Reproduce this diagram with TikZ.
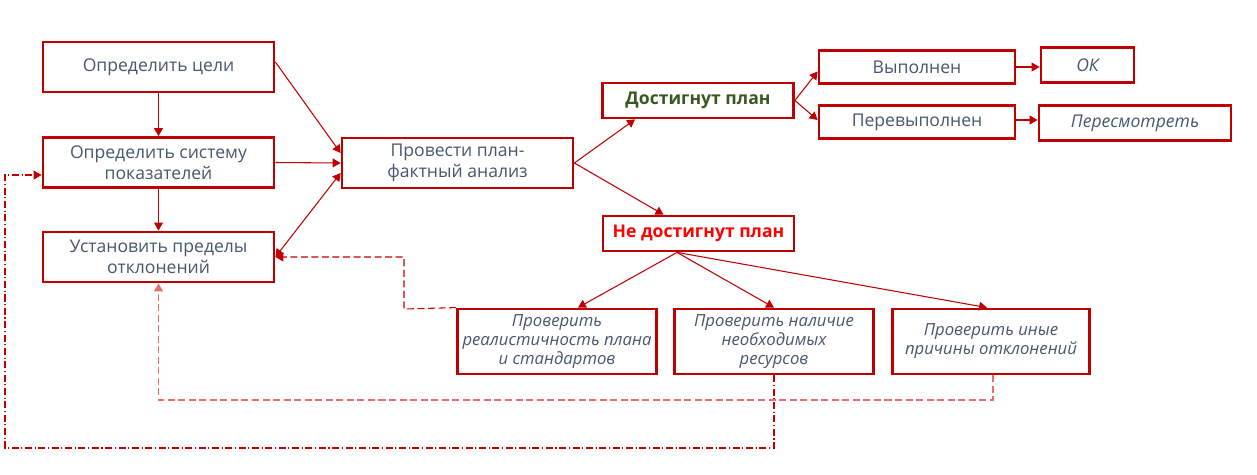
\documentclass[tikz,border=0pt]{standalone}
\usepackage{fontspec}
\setmainfont{Open Sans}
\usepackage{xcolor}
\definecolor{boxred}{RGB}{192,0,0}
\definecolor{textgray}{RGB}{72,86,110}
\definecolor{plangreen}{RGB}{56,87,35}
\definecolor{failred}{RGB}{255,0,0}
\definecolor{lightred}{RGB}{232,110,110}
\usepackage{tikz}
\usetikzlibrary{arrows.meta,calc}

\begin{document}
\begin{tikzpicture}[x=0.02cm,y=-0.02cm,
  box/.style={draw=boxred,line width=1.6pt,fill=white,text=textgray,align=center,
    font=\fontsize{10}{12}\selectfont,inner sep=1pt},
  bigbox/.style={box,minimum width=4.62cm,minimum height=1cm},
  midbox/.style={box,minimum width=3.82cm,minimum height=0.7cm,font=\fontsize{10}{12}\selectfont\bfseries},
  smallbox/.style={box,minimum width=3.92cm,minimum height=0.66cm},
  checkbox/.style={box,minimum width=3.98cm,minimum height=1.3cm,font=\fontsize{9.5}{10.8}\selectfont\itshape},
  link/.style={draw=boxred,line width=0.6pt,-{Triangle[length=4.5pt,width=5pt]}},
  back/.style={draw=boxred,line width=0.6pt,dash pattern=on 4pt off 2pt,-{Triangle[length=4.5pt,width=5pt]}},
  backlight/.style={draw=lightred,line width=1.1pt,dash pattern=on 4pt off 2pt,-{Triangle[length=4.5pt,width=5pt]}},
  backdot/.style={draw=boxred,line width=0.6pt,dash pattern=on 4pt off 1.5pt on 0.6pt off 1.5pt,-{Triangle[length=4.5pt,width=5pt]}}]
  \useasboundingbox (0,0) rectangle (1257,474);

  % left column
  \node[bigbox] (goals) at (158.5,67) {Определить цели};
  \node[bigbox] (system) at (158.5,162.5) {Определить систему\\показателей};
  \node[bigbox] (limits) at (158.5,257) {Установить пределы\\отклонений};
  \node[bigbox] (analysis) at (457.5,163) {Провести план-\\фактный анализ};

  % outcomes
  \node[midbox,text=plangreen] (reached) at (698,100.5) {Достигнут план};
  \node[midbox,text=failred] (missed) at (698.5,233.5) {Не достигнут план};
  \node[smallbox] (done) at (917,67) {Выполнен};
  \node[smallbox] (over) at (917,122) {Перевыполнен};
  \node[box,minimum width=1.86cm,minimum height=0.7cm,font=\fontsize{10}{12}\selectfont\itshape] (ok) at (1087.5,65) {ОК};
  \node[box,minimum width=3.84cm,minimum height=0.7cm,font=\fontsize{10}{12}\selectfont\itshape] (revise) at (1135,123) {Пересмотреть};

  % checks
  \node[checkbox] (realism) at (557,341.5) {Проверить\\реалистичность плана\\и стандартов};
  \node[checkbox] (resources) at (774,341.5) {Проверить наличие\\необходимых\\ресурсов};
  \node[checkbox,minimum width=3.94cm] (other) at (991,341.5) {Проверить иные\\причины отклонений};

  % solid links
  \draw[link] (goals) -- (system);
  \draw[link] (system) -- (limits);
  \draw[link] ([yshift=0.1cm]goals.east) -- ([yshift=0.2cm]analysis.west);
  \draw[link] (system.east) -- (analysis.west);
  \draw[link,{Triangle[length=4.5pt,width=5pt]}-{Triangle[length=4.5pt,width=5pt]}] ([yshift=-0.2cm]analysis.west) -- (limits.east);
  \draw[link] (analysis.east) -- ([xshift=-1.26cm]reached.south);
  \draw[link] (analysis.east) -- ([xshift=-0.7cm]missed.north);
  \draw[link] (reached.east) -- ([yshift=-0.09cm]done.west);
  \draw[link] (reached.east) -- ([yshift=0.04cm]over.west);
  \draw[link] (done) -- (done -| ok.west);
  \draw[link] ([yshift=0.04cm]over.east) -- ([yshift=0.04cm]over.east -| revise.west);
  \draw[link] ([xshift=-0.43cm]missed.south) -- ([xshift=0.42cm]realism.north);
  \draw[link] ([xshift=-0.43cm]missed.south) -- (resources.north);
  \draw[link] ([xshift=-0.43cm]missed.south) -- ([xshift=-0.08cm]other.north);

  % dashed returns
  \coordinate (bendA) at (404,309);
  \coordinate (bendB) at (5,448);
  \draw[back] (realism.north west) -- (bendA) |- (limits.east);
  \draw[backlight] ([xshift=0.04cm]other.south) -- ++(0,25) -| (limits.south);
  \draw[backdot] (resources.south) |- (bendB) |- ([yshift=-0.25cm]system.west);
\end{tikzpicture}
\end{document}
